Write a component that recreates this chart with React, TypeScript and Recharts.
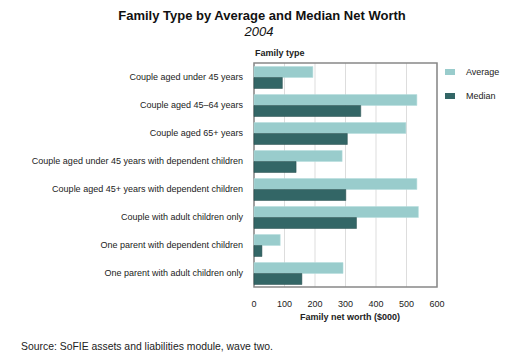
import React from "react";
import {
  BarChart,
  Bar,
  XAxis,
  YAxis,
  CartesianGrid,
  ReferenceArea,
} from "recharts";

const FONT = "'Liberation Sans', Arial, sans-serif";

const familyTypes = [
  "Couple aged under 45 years",
  "Couple aged 45\u201364 years",
  "Couple aged 65+ years",
  "Couple aged under 45 years with dependent children",
  "Couple aged 45+ years with dependent children",
  "Couple with adult children only",
  "One parent with dependent children",
  "One parent with adult children only",
];

const averageWorth = [193, 534, 498, 289, 534, 539, 86, 292];
const medianWorth = [93, 350, 306, 138, 301, 336, 26, 157];

const xTicks = [0, 100, 200, 300, 400, 500, 600];

const COLORS = { average: "#99cccc", median: "#336666" };

const legendItems = [
  { label: "Average", color: COLORS.average },
  { label: "Median", color: COLORS.median },
];

const data = familyTypes.map((name, i) => ({
  name,
  average: averageWorth[i],
  median: medianWorth[i],
}));

// plain text tick so long labels stay on one line
const YTick = ({ x, y, payload }: any) => (
  <text
    x={x}
    y={y}
    textAnchor="end"
    dominantBaseline="central"
    fontSize={9}
    fontFamily={FONT}
    fill="#222"
  >
    {payload.value}
  </text>
);

export default function App() {
  return (
    <div
      style={{
        position: "absolute",
        left: 0,
        top: 0,
        width: 527,
        height: 358,
        background: "#fff",
        fontFamily: FONT,
      }}
    >
      <div
        style={{
          position: "absolute",
          top: 8,
          left: 0,
          width: 524,
          textAlign: "center",
          fontSize: 13,
          fontWeight: "bold",
          color: "#111",
        }}
      >
        Family Type by Average and Median Net Worth
      </div>
      <div
        style={{
          position: "absolute",
          top: 24,
          left: 0,
          width: 518,
          textAlign: "center",
          fontSize: 13,
          fontStyle: "italic",
          color: "#111",
        }}
      >
        2004
      </div>
      <div
        style={{
          position: "absolute",
          top: 48,
          left: 255,
          fontSize: 9,
          fontWeight: "bold",
          color: "#222",
        }}
      >
        Family type
      </div>
      <div
        style={{
          position: "absolute",
          top: 312,
          left: 0,
          width: 700,
          textAlign: "center",
          fontSize: 9,
          fontWeight: "bold",
          color: "#222",
        }}
      >
        Family net worth ($000)
      </div>
      <div
        style={{
          position: "absolute",
          top: 60,
          left: 445,
          fontSize: 9,
          color: "#222",
        }}
      >
        {legendItems.map((item) => (
          <div
            key={item.label}
            style={{ display: "flex", alignItems: "center", height: 24 }}
          >
            <span
              style={{
                display: "inline-block",
                width: 10,
                height: 6,
                background: item.color,
                marginRight: 11,
              }}
            />
            {item.label}
          </div>
        ))}
      </div>
      <div
        style={{
          position: "absolute",
          top: 341,
          left: 21,
          fontSize: 10.4,
          color: "#222",
        }}
      >
        Source: SoFIE assets and liabilities module, wave two.
      </div>

      <BarChart
        width={527}
        height={358}
        data={data}
        layout="vertical"
        margin={{ top: 63, right: 90, bottom: 41, left: 0 }}
        barCategoryGap="12.5%"
        barGap={0}
      >
        <CartesianGrid horizontal={false} stroke="#dddddd" />
        <XAxis
          type="number"
          domain={[0, 600]}
          ticks={xTicks}
          interval={0}
          axisLine={false}
          tickLine={false}
          tickMargin={8}
          tick={{ fontSize: 9, fill: "#222", fontFamily: FONT }}
          height={30}
        />
        <YAxis
          type="category"
          dataKey="name"
          width={254}
          axisLine={false}
          tickLine={false}
          tickMargin={5}
          interval={0}
          tick={<YTick />}
        />
        <Bar
          dataKey="average"
          name="Average"
          fill={COLORS.average}
          stroke="#b5dcdc"
          strokeWidth={0.5}
          isAnimationActive={false}
        />
        <Bar
          dataKey="median"
          name="Median"
          fill={COLORS.median}
          stroke="#264d4d"
          strokeWidth={0.5}
          isAnimationActive={false}
        />
        <ReferenceArea
          x1={0}
          x2={600}
          fill="none"
          stroke="#888888"
          strokeWidth={1.5}
          ifOverflow="visible"
        />
      </BarChart>
    </div>
  );
}
